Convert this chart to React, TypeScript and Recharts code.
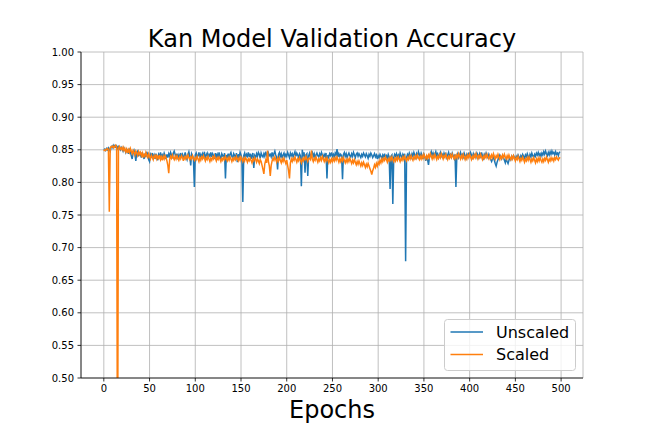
import { LineChart, Line, XAxis, YAxis, CartesianGrid, Legend } from 'recharts';

// epochs 0..499
const epochs: number[] = Array.from({ length: 500 }, (_, i) => i);

const unscaled: number[] = [
  0.850, 0.851, 0.849, 0.852, 0.850, 0.853, 0.851, 0.848, 0.854, 0.856, 0.853, 0.857, 0.855, 0.854, 0.856, 0.852, 0.855, 0.853, 0.850, 0.854,
  0.852, 0.848, 0.853, 0.850, 0.846, 0.851, 0.849, 0.844, 0.850, 0.847, 0.841, 0.836, 0.845, 0.849, 0.843, 0.833, 0.846, 0.848, 0.840, 0.845,
  0.843, 0.838, 0.846, 0.841, 0.836, 0.844, 0.839, 0.847, 0.842, 0.835, 0.832, 0.843, 0.840, 0.845, 0.838, 0.842, 0.836, 0.844, 0.839, 0.834,
  0.843, 0.840, 0.846, 0.837, 0.842, 0.839, 0.845, 0.841, 0.836, 0.843, 0.838, 0.844, 0.840, 0.846, 0.842, 0.837, 0.845, 0.848, 0.843, 0.839,
  0.844, 0.838, 0.842, 0.836, 0.845, 0.840, 0.843, 0.837, 0.841, 0.846, 0.839, 0.835, 0.843, 0.847, 0.840, 0.826, 0.844, 0.841, 0.836, 0.793,
  0.842, 0.845, 0.838, 0.841, 0.846, 0.839, 0.843, 0.837, 0.844, 0.840, 0.847, 0.836, 0.842, 0.845, 0.838, 0.843, 0.840, 0.846, 0.839, 0.844,
  0.841, 0.836, 0.845, 0.839, 0.843, 0.838, 0.846, 0.840, 0.835, 0.844, 0.841, 0.838, 0.845, 0.806, 0.842, 0.839, 0.844, 0.837, 0.843, 0.846,
  0.840, 0.837, 0.844, 0.841, 0.838, 0.845, 0.831, 0.843, 0.839, 0.846, 0.842, 0.837, 0.770, 0.841, 0.845, 0.838, 0.843, 0.840, 0.846, 0.839,
  0.844, 0.836, 0.842, 0.845, 0.822, 0.841, 0.838, 0.844, 0.840, 0.846, 0.843, 0.837, 0.845, 0.841, 0.839, 0.844, 0.840, 0.847, 0.842, 0.838,
  0.845, 0.841, 0.843, 0.839, 0.846, 0.840, 0.844, 0.848, 0.842, 0.838, 0.820, 0.843, 0.846, 0.840, 0.844, 0.837, 0.842, 0.845, 0.839, 0.843,
  0.840, 0.846, 0.842, 0.838, 0.845, 0.841, 0.844, 0.839, 0.843, 0.847, 0.840, 0.845, 0.842, 0.838, 0.844, 0.841, 0.794, 0.850, 0.840, 0.846,
  0.815, 0.842, 0.844, 0.810, 0.841, 0.845, 0.839, 0.843, 0.846, 0.840, 0.844, 0.838, 0.842, 0.845, 0.841, 0.839, 0.844, 0.840, 0.846, 0.842,
  0.838, 0.843, 0.840, 0.845, 0.806, 0.842, 0.839, 0.844, 0.841, 0.846, 0.840, 0.843, 0.838, 0.845, 0.842, 0.851, 0.839, 0.844, 0.840, 0.843,
  0.841, 0.805, 0.843, 0.846, 0.840, 0.844, 0.838, 0.842, 0.845, 0.841, 0.839, 0.844, 0.840, 0.846, 0.842, 0.838, 0.843, 0.845, 0.840, 0.844,
  0.841, 0.838, 0.843, 0.840, 0.845, 0.842, 0.839, 0.844, 0.841, 0.837, 0.843, 0.840, 0.845, 0.842, 0.838, 0.841, 0.844, 0.839, 0.842, 0.836,
  0.841, 0.838, 0.843, 0.840, 0.836, 0.842, 0.839, 0.844, 0.838, 0.841, 0.837, 0.843, 0.839, 0.790, 0.840, 0.842, 0.767, 0.838, 0.843, 0.840,
  0.844, 0.839, 0.842, 0.838, 0.845, 0.841, 0.837, 0.843, 0.840, 0.844, 0.679, 0.838, 0.843, 0.840, 0.845, 0.841, 0.838, 0.844, 0.840, 0.846,
  0.842, 0.838, 0.844, 0.840, 0.847, 0.843, 0.839, 0.845, 0.841, 0.836, 0.843, 0.839, 0.833, 0.840, 0.835, 0.827, 0.838, 0.843, 0.847, 0.841,
  0.845, 0.840, 0.843, 0.847, 0.841, 0.844, 0.838, 0.842, 0.846, 0.840, 0.843, 0.839, 0.845, 0.841, 0.844, 0.838, 0.842, 0.846, 0.840, 0.843,
  0.839, 0.845, 0.841, 0.837, 0.843, 0.793, 0.840, 0.844, 0.838, 0.842, 0.846, 0.840, 0.843, 0.839, 0.845, 0.841, 0.837, 0.843, 0.840, 0.844,
  0.841, 0.846, 0.842, 0.838, 0.844, 0.840, 0.843, 0.839, 0.845, 0.842, 0.838, 0.844, 0.840, 0.846, 0.841, 0.837, 0.843, 0.840, 0.845, 0.841,
  0.838, 0.843, 0.839, 0.835, 0.832, 0.836, 0.840, 0.834, 0.829, 0.825, 0.831, 0.835, 0.838, 0.842, 0.839, 0.836, 0.841, 0.838, 0.834, 0.830,
  0.836, 0.832, 0.829, 0.834, 0.838, 0.835, 0.840, 0.837, 0.841, 0.838, 0.835, 0.840, 0.837, 0.842, 0.839, 0.836, 0.841, 0.838, 0.843, 0.840,
  0.837, 0.842, 0.839, 0.844, 0.840, 0.837, 0.843, 0.839, 0.845, 0.841, 0.838, 0.843, 0.840, 0.845, 0.842, 0.846, 0.841, 0.844, 0.840, 0.845,
  0.842, 0.847, 0.843, 0.848, 0.844, 0.841, 0.846, 0.842, 0.847, 0.843, 0.848, 0.844, 0.846, 0.842, 0.847, 0.843, 0.845, 0.841, 0.846, 0.847,
];

const scaled: number[] = [
  0.848, 0.850, 0.849, 0.851, 0.852, 0.850, 0.755, 0.853, 0.855, 0.854, 0.856, 0.853, 0.855, 0.857, 0.854, 0.300, 0.852, 0.855, 0.851, 0.853,
  0.850, 0.854, 0.849, 0.852, 0.847, 0.851, 0.845, 0.850, 0.846, 0.852, 0.848, 0.844, 0.849, 0.846, 0.842, 0.848, 0.845, 0.841, 0.847, 0.843,
  0.846, 0.841, 0.845, 0.838, 0.843, 0.840, 0.846, 0.842, 0.837, 0.844, 0.840, 0.836, 0.842, 0.839, 0.835, 0.841, 0.838, 0.843, 0.836, 0.840,
  0.837, 0.842, 0.835, 0.839, 0.834, 0.840, 0.836, 0.841, 0.838, 0.833, 0.826, 0.814, 0.835, 0.840, 0.837, 0.842, 0.838, 0.835, 0.840, 0.836,
  0.841, 0.837, 0.834, 0.839, 0.836, 0.841, 0.838, 0.833, 0.839, 0.836, 0.840, 0.837, 0.842, 0.838, 0.835, 0.839, 0.836, 0.841, 0.837, 0.834,
  0.838, 0.835, 0.840, 0.836, 0.832, 0.838, 0.834, 0.839, 0.836, 0.841, 0.837, 0.833, 0.838, 0.835, 0.840, 0.836, 0.832, 0.837, 0.834, 0.839,
  0.836, 0.841, 0.837, 0.833, 0.838, 0.835, 0.839, 0.836, 0.832, 0.837, 0.834, 0.838, 0.835, 0.840, 0.836, 0.833, 0.838, 0.834, 0.839, 0.836,
  0.832, 0.837, 0.834, 0.838, 0.835, 0.840, 0.836, 0.833, 0.838, 0.834, 0.839, 0.836, 0.832, 0.837, 0.833, 0.838, 0.835, 0.831, 0.836, 0.833,
  0.837, 0.834, 0.830, 0.836, 0.833, 0.838, 0.835, 0.831, 0.836, 0.833, 0.829, 0.835, 0.832, 0.826, 0.820, 0.813, 0.828, 0.834, 0.830, 0.849,
  0.832, 0.825, 0.810, 0.826, 0.833, 0.837, 0.834, 0.839, 0.835, 0.831, 0.837, 0.833, 0.838, 0.834, 0.830, 0.836, 0.832, 0.837, 0.833, 0.829,
  0.834, 0.826, 0.818, 0.806, 0.830, 0.836, 0.832, 0.837, 0.834, 0.839, 0.835, 0.831, 0.836, 0.833, 0.838, 0.834, 0.830, 0.836, 0.833, 0.838,
  0.835, 0.840, 0.836, 0.832, 0.837, 0.837, 0.835, 0.849, 0.836, 0.832, 0.837, 0.834, 0.839, 0.835, 0.831, 0.836, 0.833, 0.838, 0.834, 0.840,
  0.836, 0.832, 0.837, 0.833, 0.838, 0.834, 0.830, 0.835, 0.831, 0.836, 0.832, 0.837, 0.833, 0.838, 0.834, 0.839, 0.835, 0.831, 0.836, 0.832,
  0.837, 0.833, 0.838, 0.834, 0.830, 0.835, 0.831, 0.836, 0.832, 0.837, 0.833, 0.829, 0.834, 0.830, 0.835, 0.831, 0.827, 0.832, 0.828, 0.833,
  0.829, 0.825, 0.830, 0.826, 0.831, 0.827, 0.823, 0.828, 0.824, 0.829, 0.825, 0.821, 0.817, 0.812, 0.818, 0.822, 0.827, 0.823, 0.829, 0.825,
  0.831, 0.828, 0.834, 0.830, 0.836, 0.832, 0.837, 0.834, 0.839, 0.835, 0.831, 0.836, 0.833, 0.838, 0.834, 0.839, 0.835, 0.832, 0.837, 0.833,
  0.838, 0.834, 0.839, 0.836, 0.832, 0.837, 0.834, 0.839, 0.835, 0.840, 0.836, 0.833, 0.838, 0.835, 0.840, 0.836, 0.841, 0.837, 0.834, 0.839,
  0.836, 0.841, 0.837, 0.842, 0.838, 0.835, 0.840, 0.836, 0.841, 0.837, 0.843, 0.839, 0.836, 0.841, 0.837, 0.842, 0.838, 0.844, 0.840, 0.836,
  0.841, 0.837, 0.843, 0.839, 0.835, 0.840, 0.837, 0.842, 0.838, 0.844, 0.840, 0.836, 0.841, 0.838, 0.843, 0.839, 0.835, 0.840, 0.837, 0.842,
  0.838, 0.843, 0.839, 0.836, 0.841, 0.837, 0.842, 0.838, 0.844, 0.840, 0.836, 0.841, 0.837, 0.843, 0.839, 0.835, 0.840, 0.836, 0.842, 0.838,
  0.843, 0.839, 0.835, 0.840, 0.837, 0.842, 0.838, 0.844, 0.840, 0.836, 0.841, 0.838, 0.843, 0.839, 0.835, 0.840, 0.837, 0.842, 0.838, 0.843,
  0.839, 0.836, 0.841, 0.837, 0.842, 0.838, 0.844, 0.840, 0.836, 0.841, 0.838, 0.843, 0.839, 0.835, 0.840, 0.837, 0.842, 0.838, 0.843, 0.839,
  0.836, 0.841, 0.837, 0.842, 0.838, 0.835, 0.840, 0.836, 0.841, 0.837, 0.833, 0.838, 0.835, 0.840, 0.836, 0.832, 0.837, 0.834, 0.839, 0.835,
  0.831, 0.836, 0.833, 0.838, 0.834, 0.839, 0.835, 0.831, 0.836, 0.833, 0.838, 0.834, 0.830, 0.836, 0.832, 0.837, 0.833, 0.838, 0.834, 0.831,
  0.836, 0.832, 0.837, 0.834, 0.839, 0.835, 0.831, 0.836, 0.833, 0.838, 0.834, 0.837, 0.833, 0.838, 0.835, 0.839, 0.836, 0.834, 0.838, 0.837,
];

const xTicks = [0, 50, 100, 150, 200, 250, 300, 350, 400, 450, 500];
const yTicks = [0.5, 0.55, 0.6, 0.65, 0.7, 0.75, 0.8, 0.85, 0.9, 0.95, 1.0];

const BLUE = '#1f77b4';
const ORANGE = '#ff7f0e';
const FONT = '"DejaVu Sans", sans-serif';

const data = epochs.map((epoch, i) => ({
  epoch,
  unscaled: unscaled[i],
  scaled: scaled[i],
}));

function LegendBox() {
  return (
    <svg width={132} height={52} style={{ display: 'block' }}>
      <rect x={0.5} y={0.5} width={131} height={51} rx={3} fill="rgba(255,255,255,0.8)" stroke="#cccccc" />
      <line x1={6.5} x2={39} y1={13} y2={13} stroke={BLUE} strokeWidth={1.5} />
      <text x={52} y={19} fontSize={16} fontFamily={FONT} fill="#000">Unscaled</text>
      <line x1={6.5} x2={39} y1={35.5} y2={35.5} stroke={ORANGE} strokeWidth={1.5} />
      <text x={52} y={41} fontSize={16} fontFamily={FONT} fill="#000">Scaled</text>
    </svg>
  );
}

export default function App() {
  return (
    <div style={{ position: 'absolute', left: 0, top: 0, width: 648, height: 432, background: '#fff' }}>
      <LineChart
        width={648}
        height={432}
        data={data}
        margin={{ top: 52, right: 65, bottom: 24, left: 41 }}
        style={{ fontFamily: FONT }}
      >
        <CartesianGrid stroke="#b0b0b0" strokeWidth={0.8} />
        <XAxis
          dataKey="epoch"
          type="number"
          domain={[-24.95, 523.95]}
          ticks={xTicks}
          allowDataOverflow
          height={30}
          tickSize={3.5}
          tickMargin={3.5}
          tick={{ fontSize: 10, fill: '#000' }}
          axisLine={{ stroke: '#000', strokeWidth: 0.8 }}
          tickLine={{ stroke: '#000', strokeWidth: 0.8 }}
        />
        <XAxis
          xAxisId="top"
          orientation="top"
          dataKey="epoch"
          type="number"
          domain={[-24.95, 523.95]}
          allowDataOverflow
          height={0}
          tick={false}
          tickLine={false}
          axisLine={{ stroke: '#000', strokeWidth: 0.8 }}
        />
        <YAxis
          type="number"
          domain={[0.5, 1.0]}
          ticks={yTicks}
          allowDataOverflow
          width={40}
          tickSize={3.5}
          tickMargin={3.5}
          tickFormatter={(v: number) => v.toFixed(2)}
          tick={{ fontSize: 10, fill: '#000' }}
          axisLine={{ stroke: '#000', strokeWidth: 0.8 }}
          tickLine={{ stroke: '#000', strokeWidth: 0.8 }}
        />
        <YAxis
          yAxisId="right"
          orientation="right"
          type="number"
          domain={[0.5, 1.0]}
          allowDataOverflow
          width={0}
          tick={false}
          tickLine={false}
          axisLine={{ stroke: '#000', strokeWidth: 0.8 }}
        />
        <Line
          type="linear"
          dataKey="unscaled"
          name="Unscaled"
          stroke={BLUE}
          strokeWidth={1.5}
          dot={false}
          isAnimationActive={false}
        />
        <Line
          type="linear"
          dataKey="scaled"
          name="Scaled"
          stroke={ORANGE}
          strokeWidth={1.5}
          dot={false}
          isAnimationActive={false}
        />
        <Legend
          layout="vertical"
          align="center"
          verticalAlign="middle"
          content={() => <LegendBox />}
          wrapperStyle={{ position: 'absolute', left: 444, top: 319, width: 132, height: 52 }}
        />
      </LineChart>
      <svg
        width={648}
        height={432}
        style={{ position: 'absolute', left: 0, top: 0, pointerEvents: 'none' }}
      >
        <text x={332} y={47} textAnchor="middle" fontSize={24} fontFamily={FONT} fill="#000">
          Kan Model Validation Accuracy
        </text>
        <text x={332} y={418} textAnchor="middle" fontSize={24} fontFamily={FONT} fill="#000">
          Epochs
        </text>
      </svg>
    </div>
  );
}
